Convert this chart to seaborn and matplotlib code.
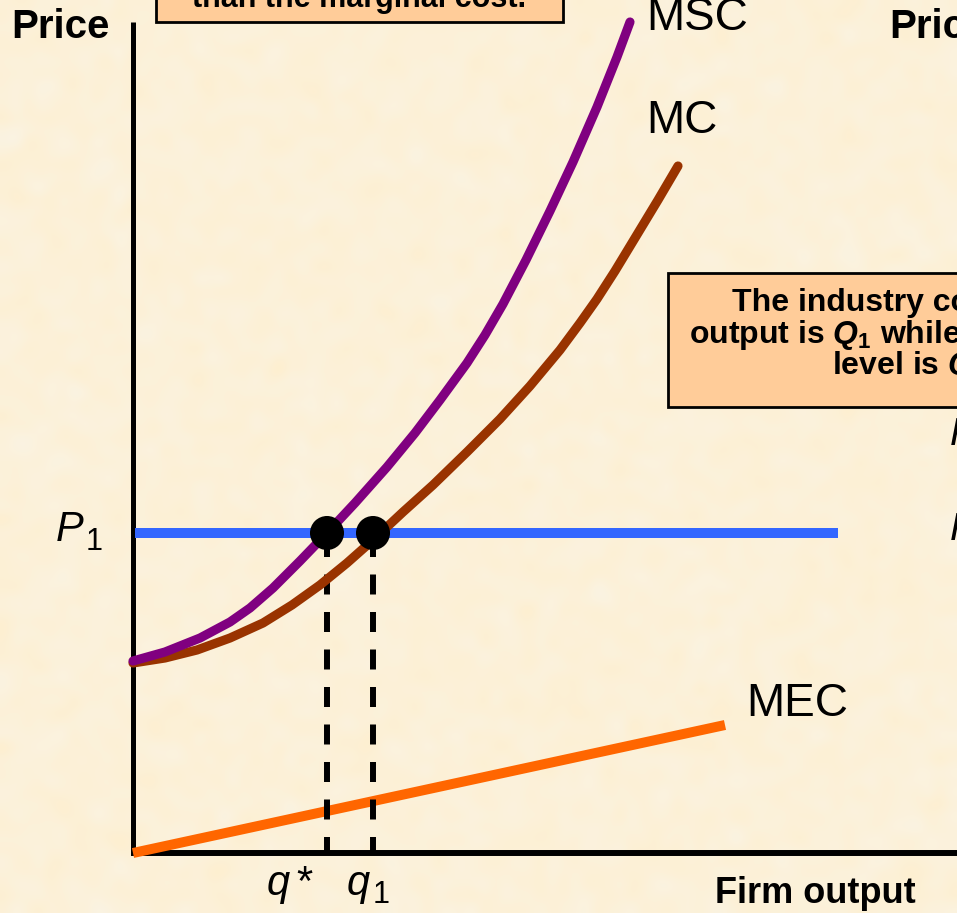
import matplotlib
matplotlib.use("Agg")
import matplotlib.pyplot as plt
from matplotlib.patches import Rectangle
import numpy as np
import pandas as pd
import seaborn as sns

# ---- data (firm output on x, price on y) ----
mc_q = [0, 3.2, 6.4, 9.7, 13.0, 15.9, 18.7, 21.4, 24.0, 27.0, 30.0, 33.4,
        36.7, 39.7, 42.7, 44.7, 46.4, 48.2, 50.2, 52.5, 54.5]
mc_p = [19.0, 19.5, 20.3, 21.5, 23.0, 24.8, 26.8, 29.0, 31.3, 34.1, 36.8, 40.1,
        43.4, 46.7, 50.3, 53.0, 55.4, 58.2, 61.5, 65.3, 68.7]

msc_q = [0, 3.2, 6.7, 9.7, 11.7, 14.0, 16.7, 19.4, 22.2, 25.4, 28.2, 30.7,
         33.4, 35.2, 37.0, 39.3, 41.7, 44.0, 46.4, 48.4, 49.7]
msc_p = [19.2, 20.1, 21.5, 23.1, 24.5, 26.5, 29.2, 32.0, 35.0, 38.6, 42.0, 45.3,
         49.0, 51.8, 54.9, 59.3, 64.2, 69.1, 74.6, 79.6, 83.1]

mec_q = [0, 59.2]
mec_p = [0, 12.8]

price_q = [0.2, 70.5]
p1 = 32.0
q_star = 19.4
q_1 = 24.0

axis_top = 83.1
axis_right = 90.0

# ---- style ----
sns.set_theme(style="white")
plt.rcParams["font.family"] = ["Liberation Sans", "DejaVu Sans"]
plt.rcParams["text.color"] = "black"
plt.rcParams["mathtext.fontset"] = "custom"
plt.rcParams["mathtext.it"] = "Liberation Sans:italic:bold"
plt.rcParams["mathtext.rm"] = "Liberation Sans:bold"
plt.rcParams["mathtext.bf"] = "Liberation Sans:bold"
plt.rcParams["lines.scale_dashes"] = False

BG = "#FCF1D9"
PURPLE = "#800080"
BROWN = "#993300"
BLUE = "#3366FF"
ORANGE = "#FF6600"
BOX = "#FFCC99"

fig = plt.figure(figsize=(9.57, 9.13), dpi=100)
fig.patch.set_facecolor(BG)

# parchment-like backdrop
bg_ax = fig.add_axes([0, 0, 1, 1], zorder=0)
rng = np.random.default_rng(11)
blotch = rng.standard_normal((80, 84))
base = np.array([252, 241, 217]) / 255.0
tint = np.array([0.0, 0.007, 0.020])
paper = np.clip(base[None, None, :] - blotch[:, :, None] * tint[None, None, :]
                + blotch[:, :, None] * 0.003, 0, 1)
bg_ax.imshow(paper, aspect="auto", interpolation="bicubic")
bg_ax.axis("off")

ax = fig.add_axes([0, 0, 1, 1], zorder=1)
ax.patch.set_alpha(0)
ax.set_xlim(-13.3, 82.4)
ax.set_ylim(-6.0, 85.3)
ax.axis("off")

# diagram axes
ax.plot([0, 0], [0, axis_top], color="black", lw=3.6, solid_capstyle="butt", zorder=2)
ax.plot([-0.2, axis_right], [0, 0], color="black", lw=4.3, solid_capstyle="butt", zorder=2)

# marginal external cost
sns.lineplot(x=mec_q, y=mec_p, ax=ax, color=ORANGE, lw=7.2,
             solid_capstyle="butt", zorder=3)

# drop lines to q* and q1
for q in (q_star, q_1):
    ax.plot([q, q], [p1 - 0.4, 0], color="black", lw=4.3,
            dashes=(14.4, 12.6), dash_capstyle="butt", zorder=3)

# market price
sns.lineplot(x=price_q, y=[p1, p1], ax=ax, color=BLUE, lw=7.2,
             solid_capstyle="butt", zorder=4)

# cost curves
mc_df = pd.DataFrame({"q": mc_q, "p": mc_p})
msc_df = pd.DataFrame({"q": msc_q, "p": msc_p})
sns.lineplot(data=mc_df, x="q", y="p", ax=ax, sort=False, estimator=None,
             color=BROWN, lw=6.6, solid_capstyle="round",
             solid_joinstyle="round", zorder=5)
sns.lineplot(data=msc_df, x="q", y="p", ax=ax, sort=False, estimator=None,
             color=PURPLE, lw=6.6, solid_capstyle="round",
             solid_joinstyle="round", zorder=6)

# firm choices at the market price
sns.scatterplot(x=[q_star, q_1], y=[p1, p1], ax=ax, s=600, color="black",
                edgecolor="none", linewidth=0, zorder=7, legend=False)

# ---- labels ----
ax.text(-12.2, 81.5, "Price", fontsize=29, fontweight="bold", va="baseline", ha="left")
ax.text(75.6, 81.5, "Price", fontsize=29, fontweight="bold", va="baseline", ha="left")
ax.text(58.2, -5.0, "Firm output", fontsize=26, fontweight="bold", va="baseline", ha="left")

ax.text(51.3, 82.3, "MSC", fontsize=33, va="baseline", ha="left")
ax.text(51.3, 72.0, "MC", fontsize=33, va="baseline", ha="left")
ax.text(61.3, 13.7, "MEC", fontsize=33, va="baseline", ha="left")

ax.text(-7.7, 31.2, "P", fontsize=30, style="italic", va="baseline", ha="left")
ax.text(-4.7, 30.3, "1", fontsize=22, va="baseline", ha="left")

ax.text(13.4, -4.2, "q", fontsize=30, style="italic", va="baseline", ha="left")
ax.text(16.3, -4.2, "*", fontsize=30, va="baseline", ha="left")
ax.text(21.4, -4.2, "q", fontsize=30, style="italic", va="baseline", ha="left")
ax.text(24.0, -5.0, "1", fontsize=22, va="baseline", ha="left")

# right-hand panel labels running past the edge
ax.text(81.7, 40.8, "P*", fontsize=28, style="italic", va="baseline", ha="left")
ax.text(81.7, 31.3, "P", fontsize=28, style="italic", va="baseline", ha="left")

# ---- callout boxes ----
ax.add_patch(Rectangle((2.3, 83.1), 40.7, 4.0, facecolor=BOX, edgecolor="black",
                       lw=2.0, zorder=8))
ax.text(22.65, 84.6, "than the marginal cost.", fontsize=22, fontweight="bold",
        ha="center", va="baseline", zorder=9)

ax.add_patch(Rectangle((53.5, 44.6), 35.0, 13.4, facecolor=BOX, edgecolor="black",
                       lw=2.0, zorder=8))
box_lines = ["The industry competitive",
             r"output is $Q_1$ while the efficient",
             r"level is $Q$*."]
box_x = [59.9, 55.6, 69.9]
box_y = [54.2, 51.0, 47.9]
for txt, x, y in zip(box_lines, box_x, box_y):
    ax.text(x, y, txt, fontsize=23, fontweight="bold", ha="left",
            va="baseline", zorder=9)

fig.savefig("out.png", dpi=100, facecolor=BG)
